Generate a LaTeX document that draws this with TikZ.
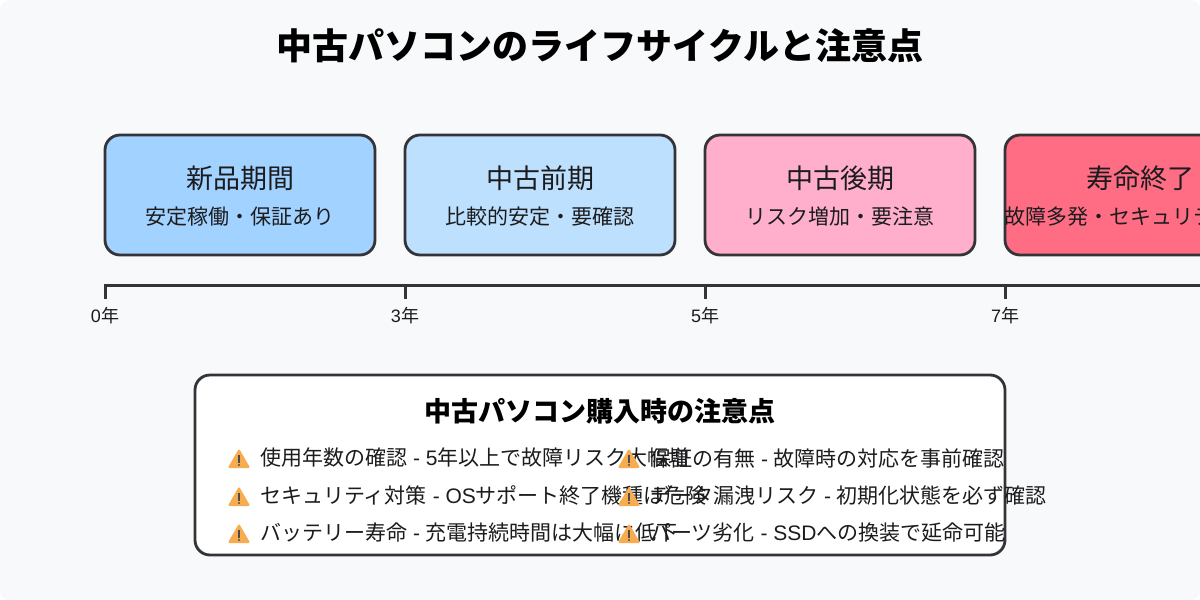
\documentclass[tikz,border=0pt]{standalone}
\usepackage{fontspec}
\setmainfont{Liberation Sans}
\newfontfamily\jafont{Noto Sans CJK JP}
\newcommand{\ja}[1]{{\jafont #1}}
\definecolor{bgc}{HTML}{F8F9FA}
\definecolor{linec}{HTML}{333338}
\definecolor{c1}{HTML}{A2D2FF}
\definecolor{c2}{HTML}{BDE0FE}
\definecolor{c3}{HTML}{FFAFCC}
\definecolor{c4}{HTML}{FF6D85}
\definecolor{warnc}{HTML}{F7AC50}
\definecolor{txtc}{HTML}{1C1C1E}
\tikzset{
  x=1pt,y=-1pt,
  stage/.style={draw=linec,line width=2.8pt,rounded corners=15pt},
  axisline/.style={draw=linec,line width=3pt},
  stagetitle/.style={text=txtc,font=\jafont\fontsize{27}{31}\selectfont,inner sep=0pt,anchor=center},
  stagesub/.style={text=txtc,font=\jafont\fontsize{21}{25}\selectfont,inner sep=0pt,anchor=center},
  ticklabel/.style={text=txtc,font=\fontsize{18}{22}\selectfont,inner sep=0pt,anchor=center},
  item/.style={text=txtc,font=\fontsize{21}{25}\selectfont,inner sep=0pt,anchor=west},
}
\newcommand{\warnicon}[2]{%
  \fill[warnc,draw=warnc,line width=2pt,line join=round] (#1,#2-8.5) -- (#1+9.5,#2+8) -- (#1-9.5,#2+8) -- cycle;
  \fill[black!70] (#1-1,#2-4) rectangle (#1+1,#2+3.5);
  \fill[black!70] (#1,#2+6) circle (1.2);
}
\begin{document}
\begin{tikzpicture}
\useasboundingbox (0,0) rectangle (1200,600);
\clip (0,0) rectangle (1200,600);
\fill[white] (0,0) rectangle (1200,600);
\fill[bgc,rounded corners=10pt] (0,0) rectangle (1200,600);
\node[inner sep=0pt,text=black,font=\jafont\bfseries\fontsize{36}{40}\selectfont] (title) at (600,46) {中古パソコンのライフサイクルと注意点};

\draw[stage,fill=c1] (105,135) rectangle (375,255);
\draw[stage,fill=c2] (405,135) rectangle (675,255);
\draw[stage,fill=c3] (705,135) rectangle (975,255);
\draw[stage,fill=c4] (1005,135) rectangle (1275,255);

\node[stagetitle] (t1) at (240,178) {新品期間};
\node[stagesub] (s1) at (240,217) {安定稼働・保証あり};
\node[stagetitle] (t2) at (540,178) {中古前期};
\node[stagesub] (s2) at (540,217) {比較的安定・要確認};
\node[stagetitle] (t3) at (840,178) {中古後期};
\node[stagesub] (s3) at (840,217) {リスク増加・要注意};
\node[stagetitle] (t4) at (1140,178) {寿命終了};
\node[stagesub,anchor=west] (s4) at (1004,217) {故障多発・セキュリティリスク};

\draw[axisline] (105,299) -- (105,285) -- (1200,285);
\foreach \x in {405,705,1005} \draw[axisline] (\x,285) -- (\x,299);
\node[ticklabel] (y0) at (105,316) {0\ja{年}};
\node[ticklabel] (y3) at (405,316) {3\ja{年}};
\node[ticklabel] (y5) at (705,316) {5\ja{年}};
\node[ticklabel] (y7) at (1005,316) {7\ja{年}};

\draw[draw=linec,line width=2.8pt,rounded corners=15pt,fill=white] (195,375) rectangle (1005,555);
\node[inner sep=0pt,text=black,font=\jafont\bfseries\fontsize{27}{31}\selectfont] (h) at (600,411) {中古パソコン購入時の注意点};

\warnicon{239}{459}
\warnicon{239}{497}
\warnicon{239}{534}
\node[item] (a1) at (260,458) {\ja{使用年数の確認} - 5\ja{年以上で故障リスク大幅増}};
\node[item] (a2) at (260,495) {\ja{セキュリティ対策} - OS\ja{サポート終了機種は危険}};
\node[item] (a3) at (260,533) {\ja{バッテリー寿命} - \ja{充電持続時間は大幅に低下}};
\node[item] (b1) at (650,458) {\ja{保証の有無} - \ja{故障時の対応を事前確認}};
\node[item] (b2) at (650,495) {\ja{データ漏洩リスク} - \ja{初期化状態を必ず確認}};
\node[item] (b3) at (650,533) {\ja{パーツ劣化} - SSD\ja{への換装で延命可能}};
\warnicon{629}{459}
\warnicon{629}{497}
\warnicon{629}{534}
\end{tikzpicture}
\end{document}
